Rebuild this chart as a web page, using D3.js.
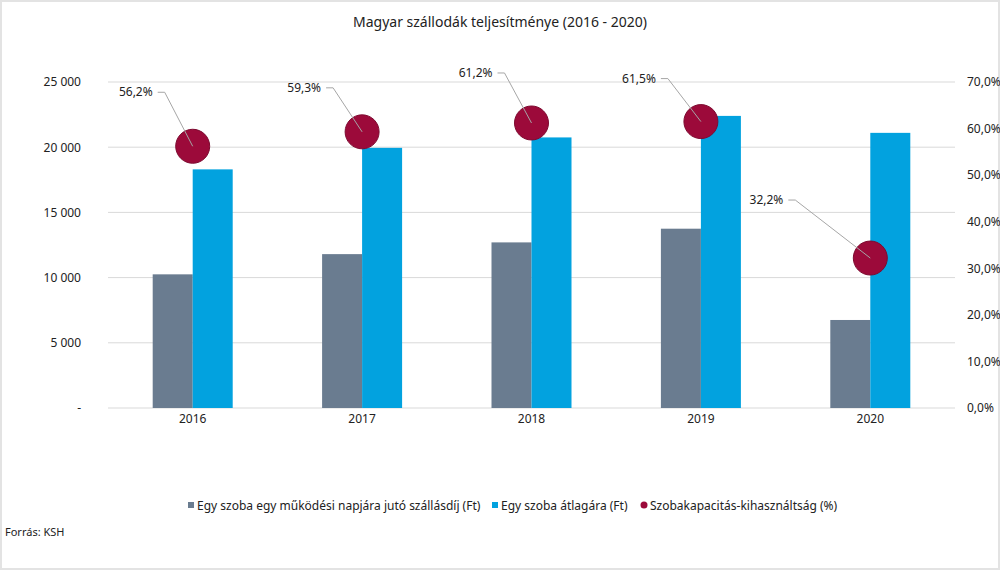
<!DOCTYPE html>
<html>
<head>
<meta charset="utf-8">
<script src="https://cdn.jsdelivr.net/npm/d3@7"></script>
<style>
  body { margin: 0; background: #fff; }
  text { font-family: "Noto Sans", "DejaVu Sans", sans-serif; fill: #222; }
  .tick text { font-size: 12px; }
</style>
</head>
<body>
<div id="chart"></div>
<script>
const years = ['2016', '2017', '2018', '2019', '2020'];
const dailyRate = [10250, 11800, 12700, 13750, 6750];
const avgPrice = [18300, 19950, 20750, 22400, 21100];
const occupancy = [56.2, 59.3, 61.2, 61.5, 32.2];
const leftTicks = [0, 5000, 10000, 15000, 20000, 25000];
const rightTicks = [0, 10, 20, 30, 40, 50, 60, 70];
const seriesNames = [
    'Egy szoba egy működési napjára jutó szállásdíj (Ft)',
    'Egy szoba átlagára (Ft)',
    'Szobakapacitás-kihasználtság (%)'
];
// where each percent label sits relative to its dot
const labelOffsets = [[-40, -50], [-41, -40], [-39, -46], [-45, -39], [-87, -54]];

const width = 1000, height = 570;
const grayColor = "#6a7c90";
const blueColor = "#02a2df";
const dotColor = "#9c0a3a";

const svg = d3.select("#chart").append("svg")
    .attr("width", width)
    .attr("height", height);

svg.append("rect")
    .attr("x", 1).attr("y", 1)
    .attr("width", width - 2).attr("height", height - 2)
    .attr("fill", "#fff")
    .attr("stroke", "#e3e3e3")
    .attr("stroke-width", 2);

const plot = { left: 108, right: 955, top: 82, bottom: 408 };

const x = d3.scaleBand().domain(years).range([plot.left, plot.right]);
const yLeft = d3.scaleLinear().domain([0, 25000]).range([plot.bottom, plot.top]);
const yRight = d3.scaleLinear().domain([0, 70]).range([plot.bottom, plot.top]);
const barW = 40;

svg.append("text")
    .attr("x", 500).attr("y", 27)
    .attr("text-anchor", "middle")
    .style("font-size", "14px")
    .text("Magyar szállodák teljesítménye (2016 - 2020)");

// gridlines
svg.append("g").selectAll("line")
    .data(leftTicks)
    .enter().append("line")
    .attr("x1", plot.left).attr("x2", plot.right)
    .attr("y1", d => yLeft(d)).attr("y2", d => yLeft(d))
    .attr("stroke", "#d9d9d9");

const fmtLeft = d => d === 0 ? "-" : d3.format(",")(d).replace(/,/g, " ");
const leftAxis = svg.append("g")
    .attr("transform", `translate(${plot.left - 24},0)`)
    .call(d3.axisLeft(yLeft).tickValues(leftTicks).tickFormat(fmtLeft).tickSize(0));
leftAxis.select(".domain").remove();

const rightAxis = svg.append("g")
    .attr("transform", `translate(${plot.right + 9},0)`)
    .call(d3.axisRight(yRight).tickValues(rightTicks)
        .tickFormat(d => d3.format(".1f")(d).replace(".", ",") + "%").tickSize(0));
rightAxis.select(".domain").remove();

const xAxis = svg.append("g")
    .attr("transform", `translate(0,${plot.bottom + 3})`)
    .call(d3.axisBottom(x).tickSize(0));
xAxis.select(".domain").remove();

// bars
svg.append("g").selectAll("rect")
    .data(dailyRate)
    .enter().append("rect")
    .attr("x", (d, i) => x(years[i]) + x.bandwidth() / 2 - barW)
    .attr("y", d => yLeft(d))
    .attr("width", barW)
    .attr("height", d => yLeft(0) - yLeft(d))
    .attr("fill", grayColor);

svg.append("g").selectAll("rect")
    .data(avgPrice)
    .enter().append("rect")
    .attr("x", (d, i) => x(years[i]) + x.bandwidth() / 2)
    .attr("y", d => yLeft(d))
    .attr("width", barW)
    .attr("height", d => yLeft(0) - yLeft(d))
    .attr("fill", blueColor);

// occupancy dots
const dots = occupancy.map((v, i) => ({
    v,
    cx: x(years[i]) + x.bandwidth() / 2,
    cy: yRight(v),
    dx: labelOffsets[i][0],
    dy: labelOffsets[i][1]
}));

svg.append("g").selectAll("circle")
    .data(dots)
    .enter().append("circle")
    .attr("cx", d => d.cx)
    .attr("cy", d => d.cy)
    .attr("r", 17)
    .attr("fill", dotColor)
    .attr("stroke", "#7d0a30")
    .attr("stroke-width", 1);

svg.append("g").selectAll("path")
    .data(dots)
    .enter().append("path")
    .attr("d", d => {
        const lx = d.cx + d.dx + 5, ly = d.cy + d.dy - 4;
        return `M${lx},${ly}L${lx + 7},${ly}L${d.cx},${d.cy}`;
    })
    .attr("fill", "none")
    .attr("stroke", "#a6a6a6")
    .attr("stroke-width", 1);

svg.append("g").selectAll("text")
    .data(dots)
    .enter().append("text")
    .attr("x", d => d.cx + d.dx)
    .attr("y", d => d.cy + d.dy)
    .attr("text-anchor", "end")
    .style("font-size", "12px")
    .text(d => d3.format(".1f")(d.v).replace(".", ",") + "%");

// legend
const legend = svg.append("g").attr("transform", "translate(0,510)");
const legendX = [188, 492, 641];
const legendColors = [grayColor, blueColor, dotColor];
seriesNames.forEach((name, i) => {
    if (i < 2) {
        legend.append("rect")
            .attr("x", legendX[i]).attr("y", -8)
            .attr("width", 6).attr("height", 6)
            .attr("fill", legendColors[i]);
    } else {
        legend.append("circle")
            .attr("cx", legendX[i] + 3).attr("cy", -5)
            .attr("r", 3.5)
            .attr("fill", legendColors[i]);
    }
    legend.append("text")
        .attr("x", legendX[i] + 9).attr("y", 0)
        .style("font-size", "12px")
        .text(name);
});

svg.append("text")
    .attr("x", 5).attr("y", 536)
    .style("font-size", "11px")
    .text("Forrás: KSH");
</script>
</body>
</html>
